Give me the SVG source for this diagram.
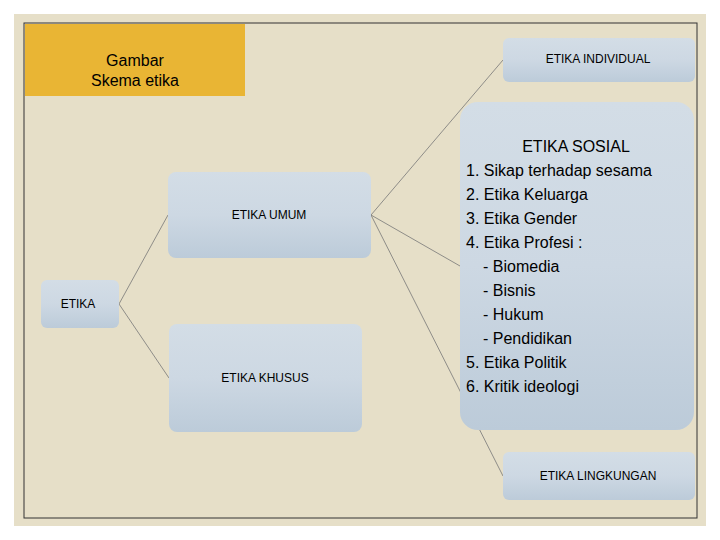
<svg xmlns="http://www.w3.org/2000/svg" width="720" height="540" viewBox="0 0 720 540">
<defs>
<linearGradient id="g" x1="0" y1="0" x2="0" y2="1"><stop offset="0" stop-color="#d3dde6"/><stop offset="0.5" stop-color="#cdd8e3"/><stop offset="1" stop-color="#bccbd9"/></linearGradient>
<style>
.box{fill:url(#g)}
.t{font-family:"Liberation Sans",Arial,sans-serif;fill:#000;text-anchor:middle}
.s{font-size:12px}
.c{stroke:#777;stroke-width:0.8;fill:none}
</style>
</defs>
<rect width="720" height="540" fill="#fff"/>
<rect x="14" y="14" width="692" height="512" fill="#e6dfc8"/>
<rect x="24" y="23" width="673" height="495" fill="none" stroke="#333" stroke-width="1"/>
<g id="title"><rect x="25" y="24" width="220" height="72" fill="#e9b534"/>
<text class="t" x="135" y="66" font-size="16">Gambar</text><text class="t" x="135" y="86" font-size="16">Skema etika</text></g>
<g id="connectors">
<path class="c" d="M119,304 L168,215 M119,304 L169,378 M371,215 L503,60 M371,215 L460,266 M371,215 L503,476"/>
</g>
<g id="etika"><rect class="box" x="41" y="280" width="78" height="48" rx="6"/><text class="t s" x="78" y="308">ETIKA</text></g>
<g id="umum"><rect class="box" x="168" y="172" width="203" height="86" rx="8"/><text class="t s" x="269" y="219">ETIKA UMUM</text></g>
<g id="khusus"><rect class="box" x="169" y="324" width="193" height="108" rx="8"/><text class="t s" x="265" y="382">ETIKA KHUSUS</text></g>
<g id="individual"><rect class="box" x="503" y="38" width="192" height="44" rx="6"/><text class="t s" x="598" y="63">ETIKA INDIVIDUAL</text></g>
<g id="sosial"><rect class="box" x="460" y="102" width="234" height="328" rx="18"/>
<text class="t" x="576" y="152" font-size="16">ETIKA SOSIAL</text>
<g font-family="Liberation Sans,Arial,sans-serif" font-size="16" fill="#000">
<text x="466" y="176">1. Sikap terhadap sesama</text>
<text x="466" y="200">2. Etika Keluarga</text>
<text x="466" y="224">3. Etika Gender</text>
<text x="466" y="248">4. Etika Profesi  :</text>
<text x="483" y="272">- Biomedia</text>
<text x="483" y="296">- Bisnis</text>
<text x="483" y="320">- Hukum</text>
<text x="483" y="344">- Pendidikan</text>
<text x="466" y="368">5. Etika Politik</text>
<text x="466" y="392">6. Kritik ideologi</text>
</g></g>
<g id="lingkungan"><rect class="box" x="503" y="452" width="192" height="48" rx="6"/><text class="t s" x="598" y="480">ETIKA LINGKUNGAN</text></g>
</svg>
